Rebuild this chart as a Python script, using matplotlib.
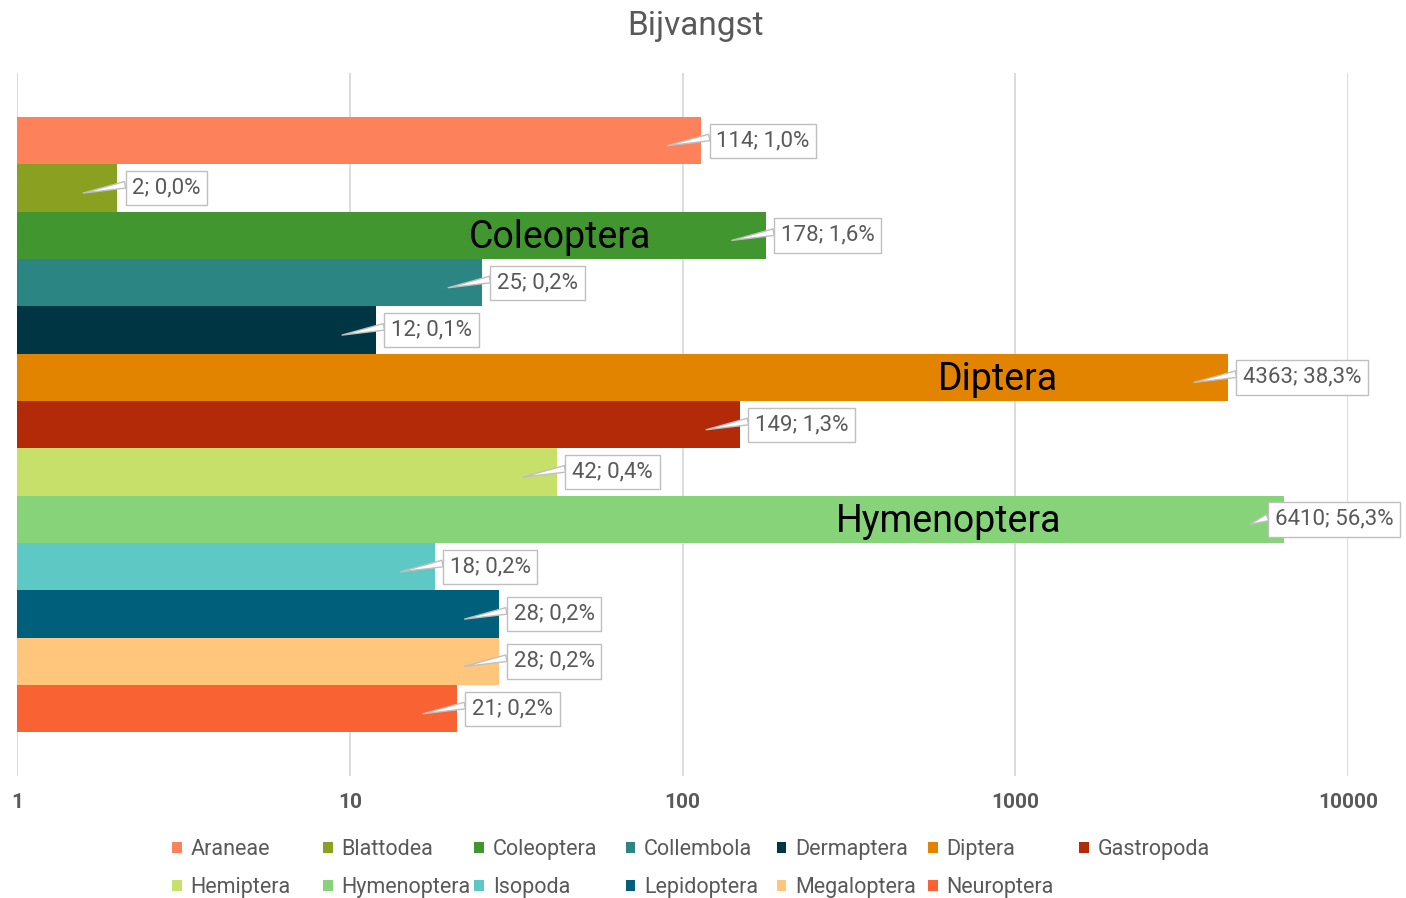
import matplotlib
matplotlib.use("Agg")
import matplotlib.pyplot as plt
from matplotlib.transforms import offset_copy, blended_transform_factory
from matplotlib.patches import Patch

plt.rcParams['font.family'] = ['Roboto', 'DejaVu Sans']

categories = ["Araneae", "Blattodea", "Coleoptera", "Collembola", "Dermaptera",
              "Diptera", "Gastropoda", "Hemiptera", "Hymenoptera", "Isopoda",
              "Lepidoptera", "Megaloptera", "Neuroptera"]
counts = [114, 2, 178, 25, 12, 4363, 149, 42, 6410, 18, 28, 28, 21]
colors = ["#FD825B", "#89A021", "#41962F", "#2B8583", "#003543", "#E28400",
          "#B22A07", "#C6E06A", "#86D37A", "#5EC8C4", "#005F7A", "#FFC67C",
          "#F96232"]
big_labels = {"Coleoptera": 0.408, "Diptera": 0.737, "Hymenoptera": 0.700}
label_shift_px = {"Hymenoptera": -24}
x_ticks = [1, 10, 100, 1000, 10000]
title = "Bijvangst"

W, H = 1406, 898
fig = plt.figure(figsize=(W / 100, H / 100), dpi=100)
ax = fig.add_axes([17 / W, 1 - 776 / H, (1348 - 17) / W, (776 - 73) / H])

total = sum(counts)
ypos = list(range(len(categories)))
ax.barh(ypos, counts, height=1.0, color=colors, left=0, zorder=2)
ax.set_xscale('log')
ax.set_xlim(1, 10000)
ax.set_ylim(12.5 + 0.92, -0.5 - 0.93)
ax.set_xticks(x_ticks)
ax.set_xticklabels([str(t) for t in x_ticks], fontsize=15, fontweight='bold', color='#595959')
ax.minorticks_off()
ax.tick_params(axis='x', length=0, pad=12)
ax.set_yticks([])
for s in ax.spines.values():
    s.set_visible(False)
ax.grid(axis='x', color='#D9D9D9', linewidth=1.3, zorder=0)
ax.set_axisbelow(True)

for i, (c, v) in enumerate(zip(categories, counts)):
    pct = f"{v / total * 100:.1f}".replace('.', ',')
    lab = f"{v}; {pct}%"
    dx = label_shift_px.get(c, 0)
    xy_tr = offset_copy(ax.transData, fig=fig, x=-34, y=-5, units='dots')
    ax.annotate(lab, xy=(v, i), xycoords=xy_tr,
                xytext=(34 + 15 + dx, 5), textcoords='offset pixels',
                ha='left', va='center', fontsize=16, color='#595959',
                bbox=dict(boxstyle='square,pad=0.3', fc='white', ec='#BFBFBF', lw=1),
                arrowprops=dict(arrowstyle='wedge,tail_width=0.3,shrink_factor=0.5',
                                fc='white', ec='#BFBFBF', lw=1, relpos=(0, 0.72),
                                shrinkA=0, shrinkB=0),
                annotation_clip=False, zorder=5)

tr = offset_copy(blended_transform_factory(ax.transAxes, ax.transData), fig=fig,
                 x=0, y=-2, units='dots')
for name, xf in big_labels.items():
    i = categories.index(name)
    ax.text(xf, i, name, transform=tr, ha='center', va='center',
            fontsize=27, color='black', zorder=4)

fig.text(695 / W, 1 - 26 / H, title, ha='center', va='center', fontsize=24, color='#595959')

handles = [Patch(facecolor=col, edgecolor='none', label=c) for c, col in zip(categories, colors)]
ncols = 7
col_x0 = 172
col_dx = 151.2
for col in range(ncols):
    hs = [handles[k] for k in (col, col + ncols) if k < len(handles)]
    leg = fig.legend(handles=hs, loc='upper left',
                     bbox_to_anchor=((col_x0 + col * col_dx) / W, 1 - 839 / H),
                     frameon=False, fontsize=15.5, labelcolor='#595959',
                     handlelength=0.45, handleheight=0.45, handletextpad=0.4,
                     labelspacing=0.8, borderpad=0, borderaxespad=0)

fig.savefig("out.png", dpi=100)
